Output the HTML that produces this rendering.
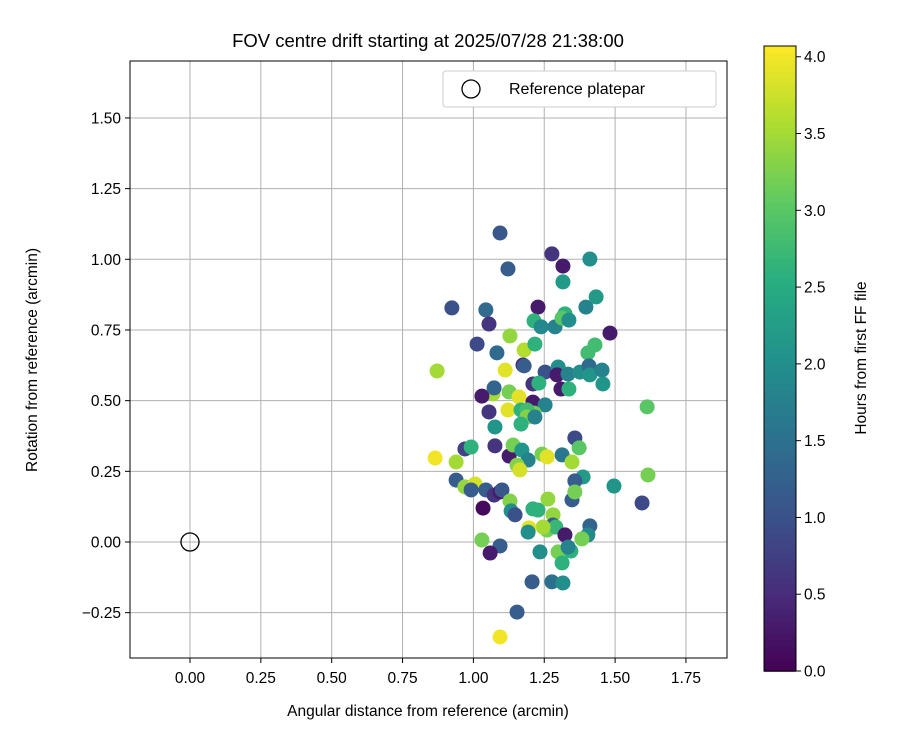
<!DOCTYPE html>
<html><head><meta charset="utf-8"><style>
body{margin:0;background:#fff}
svg text{font-family:"Liberation Sans","DejaVu Sans",sans-serif;fill:#000}
</style></head><body>
<svg id="chart" width="900" height="750" viewBox="0 0 900 750">
<rect width="900" height="750" fill="#fff"/>
<defs>
<clipPath id="pc"><rect x="130" y="61" width="597" height="597"/></clipPath>
</defs>
<g id="grid"></g>
<g id="pts" clip-path="url(#pc)"></g>
<circle cx="190" cy="542" r="9" fill="none" stroke="#000" stroke-width="1.3"/>
<rect x="130" y="61" width="597" height="597" fill="none" stroke="#000" stroke-width="1"/>
<g id="ticks"></g>
<text x="428" y="47" font-size="18.5" text-anchor="middle">FOV centre drift starting at 2025/07/28 21:38:00</text>
<text x="428" y="716" font-size="15.5" text-anchor="middle">Angular distance from reference (arcmin)</text>
<text transform="translate(37,360) rotate(-90)" font-size="15.5" text-anchor="middle">Rotation from reference (arcmin)</text>
<g>
<rect x="443" y="71" width="273" height="36" rx="3" fill="#fff" stroke="#ccc"/>
<circle cx="471" cy="89" r="9" fill="none" stroke="#000" stroke-width="1.3"/>
<text x="509" y="94" font-size="16">Reference platepar</text>
</g>
<g id="cbar"></g>
<rect x="764" y="46" width="32" height="625" fill="none" stroke="#000" stroke-width="1"/>
<g id="cbticks"></g>
<text transform="translate(866,358) rotate(-90)" font-size="15.5" text-anchor="middle">Hours from first FF file</text>
</svg>
<script>
const xs=[1.094,1.277,1.316,1.411,1.122,1.316,0.924,1.044,1.055,1.228,1.323,1.397,1.433,1.214,1.239,1.288,1.313,1.337,1.482,1.129,1.013,1.083,1.179,1.217,1.404,1.429,0.872,1.112,1.175,1.179,1.253,1.299,1.295,1.334,1.376,1.408,1.411,1.454,1.457,1.210,1.231,1.309,1.337,1.069,1.030,1.073,1.126,1.161,1.055,1.122,1.168,1.210,1.253,1.613,1.214,1.189,1.076,1.189,1.217,1.168,0.970,0.992,0.865,0.939,1.076,1.126,1.140,1.171,1.193,1.154,1.164,1.242,1.260,1.313,1.358,1.373,1.348,1.387,1.358,1.348,1.358,1.496,1.616,1.595,0.939,0.970,1.006,0.992,1.044,1.073,1.094,1.101,1.034,1.129,1.133,1.147,1.263,1.210,1.228,1.281,1.281,1.260,1.291,1.323,1.246,1.196,1.193,1.411,1.404,1.383,1.030,1.094,1.059,1.235,1.299,1.344,1.313,1.207,1.277,1.316,1.154,1.094,1.334];
const ys=[1.093,1.019,0.976,1.001,0.966,0.920,0.828,0.821,0.771,0.831,0.807,0.831,0.867,0.782,0.761,0.761,0.792,0.785,0.739,0.729,0.700,0.669,0.679,0.700,0.669,0.697,0.605,0.608,0.626,0.623,0.601,0.619,0.591,0.594,0.601,0.623,0.591,0.608,0.559,0.559,0.562,0.541,0.541,0.524,0.516,0.545,0.531,0.513,0.460,0.467,0.467,0.495,0.485,0.478,0.456,0.467,0.407,0.442,0.442,0.417,0.329,0.336,0.297,0.283,0.340,0.304,0.343,0.325,0.290,0.272,0.255,0.311,0.301,0.308,0.368,0.333,0.283,0.230,0.216,0.149,0.177,0.198,0.237,0.138,0.219,0.195,0.205,0.184,0.184,0.166,0.177,0.184,0.120,0.145,0.110,0.096,0.152,0.117,0.113,0.096,0.060,0.042,0.053,0.025,0.053,0.050,0.035,0.057,0.025,0.011,0.007,-0.014,-0.039,-0.035,-0.035,-0.032,-0.074,-0.141,-0.141,-0.145,-0.248,-0.336,-0.018];
const hours=[1.1,0.6,0.3,2.0,1.2,2.2,1.0,1.4,0.6,0.3,2.6,1.8,2.2,2.6,1.9,1.8,3.0,2.0,0.3,3.4,0.9,1.4,3.6,2.6,2.8,2.8,3.5,3.9,0.4,1.2,1.0,2.0,0.3,1.8,2.0,1.4,2.1,1.8,2.1,0.6,2.6,0.3,2.6,3.5,0.3,1.3,3.2,3.9,0.6,3.9,2.6,0.3,1.8,3.0,3.2,2.8,2.1,3.3,1.8,2.6,0.8,2.6,4.0,3.5,0.6,0.3,3.2,2.1,1.8,3.3,3.8,3.2,3.9,1.6,0.9,3.0,3.5,2.2,1.2,1.2,3.2,2.1,3.2,0.9,1.2,3.4,3.8,1.2,1.2,0.6,0.3,1.1,0.1,3.3,2.0,1.0,3.4,2.6,2.6,3.4,1.2,3.2,2.7,0.3,3.5,3.9,2.0,1.3,1.9,3.2,3.2,1.2,0.3,2.0,3.2,2.6,2.6,1.2,1.5,2.0,1.2,4.0,1.8];
const xTicks=[0,0.25,0.5,0.75,1.0,1.25,1.5,1.75];
const yTicks=[-0.25,0,0.25,0.5,0.75,1.0,1.25,1.5];
const cTicks=[0,0.5,1,1.5,2,2.5,3,3.5,4];
const NS="http://www.w3.org/2000/svg";
const X=v=>190+v*283.4, Y=v=>542-v*282.7;
const stops=[[68,1,84],[71,45,123],[59,82,139],[44,114,142],[33,145,140],[40,174,128],[94,201,98],[173,220,48],[253,231,37]];
function vir(t){t=Math.max(0,Math.min(1,t))*8;const i=Math.min(7,Math.floor(t)),f=t-i,a=stops[i],b=stops[i+1];
return 'rgb('+a.map((c,k)=>Math.round(c+(b[k]-c)*f)).join(',')+')';}
function el(tag,attrs,parent){const e=document.createElementNS(NS,tag);for(const k in attrs)e.setAttribute(k,attrs[k]);parent.appendChild(e);return e;}
const grid=document.getElementById('grid'),ticks=document.getElementById('ticks'),pts=document.getElementById('pts'),cb=document.getElementById('cbticks'),cbar=document.getElementById('cbar');
const N=100;
for(let i=0;i<N;i++){
const r=el('rect',{x:764,y:46+625*(N-1-i)/N,width:32,height:625/N+0.8,fill:vir((i+0.5)/N)},cbar);


}
xTicks.forEach(v=>{
const g=el('line',{x1:X(v),x2:X(v),y1:61,y2:658,stroke:'#b0b0b0','stroke-width':1},grid);


const t=el('line',{x1:X(v),x2:X(v),y1:658,y2:663,stroke:'#000'},ticks);


const l=el('text',{x:X(v),y:683,'font-size':15.5,'text-anchor':'middle'},ticks);l.textContent=v.toFixed(2);


});
yTicks.forEach(v=>{
const g=el('line',{x1:130,x2:727,y1:Y(v),y2:Y(v),stroke:'#b0b0b0','stroke-width':1},grid);


const t=el('line',{x1:125,x2:130,y1:Y(v),y2:Y(v),stroke:'#000'},ticks);


const l=el('text',{x:121,y:Y(v)+5.5,'font-size':15.5,'text-anchor':'end'},ticks);l.textContent=(v<0?'\u2212'+(-v).toFixed(2):v.toFixed(2));


});
const hmax=4.07;
xs.forEach((x,i)=>{
const c=el('circle',{cx:X(x),cy:Y(ys[i]),r:7.5,fill:vir(hours[i]/hmax)},pts);


});
cTicks.forEach(v=>{
const y=671-v/hmax*625;
const t=el('line',{x1:796,x2:801,y1:y,y2:y,stroke:'#000'},cb);


const l=el('text',{x:804,y:y+5.5,'font-size':15.5},cb);l.textContent=v.toFixed(1);


});
</script>
</body></html>
